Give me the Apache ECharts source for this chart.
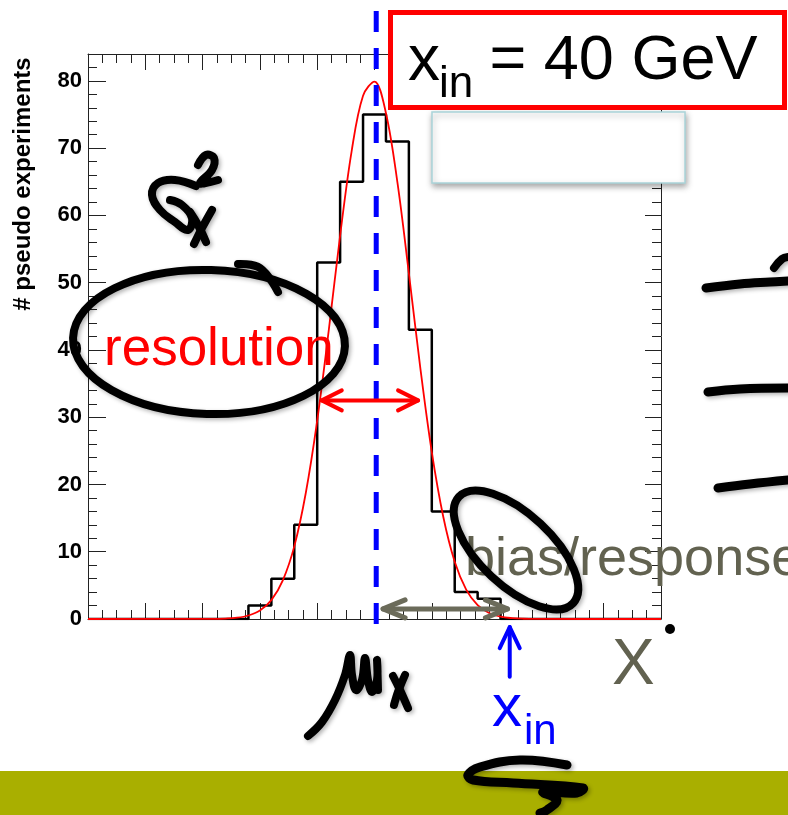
<!DOCTYPE html>
<html><head><meta charset="utf-8">
<script src="https://cdn.jsdelivr.net/npm/echarts@6/dist/echarts.min.js"></script>
<style>html,body{margin:0;padding:0;background:#fff;overflow:hidden}#c{width:788px;height:815px}</style>
</head><body><div id="c"></div><script>
// ---- data ----
const binLowEdges = [0,4,8,12,16,20,24,28,32,36,40,44,48,52,56,60,64,68,72,76,80,84,88,92,96];
const binWidth = 4;
const counts = [0,0,0,0,0,0,0,2,6,14,53,65,75,71,43,16,4,3,0,0,0,0,0,0,0];
const fitX = [0,22,24,26,28,30,32,34,36,38,40,42,44,46,48,50,52,54,56,58,60,62,64,66,68,70,72,74,76,78,100];
const fitY = [0,0.02,0.07,0.19,0.52,1.26,2.81,5.75,10.8,18.7,29.5,42.8,57.0,69.5,77.8,79.9,75.2,64.9,51.4,37.3,24.8,15.2,8.5,4.37,2.06,0.89,0.35,0.13,0.04,0.01,0];
const muX = 50.3;            // position of the dashed blue line
const resolutionArrow = {y: 32.5, x1: 40.8, x2: 57.6};
const biasArrow = {y: 1.5, x1: 51.5, x2: 73.2};
const xinArrow = {x: 73.6, y1: -1.2, y2: -8.6};
const yTitle = '# pseudo experiments';

const FONT = '"Liberation Sans", Arial, Helvetica, sans-serif';
const histData = binLowEdges.map((x, i) => [x, counts[i]]);
histData.push([binLowEdges[binLowEdges.length - 1] + binWidth, counts[counts.length - 1]]);
const fitData = fitX.map((x, i) => [x, fitY[i]]);

const axLine = {show: true, onZero: false, lineStyle: {color: '#222', width: 1}};
function xAx(grid, pos, interval, len, line) {
  return {type: 'value', gridIndex: grid, position: pos, min: 0, max: 100, interval: interval,
    axisLine: line ? axLine : {show: false, onZero: false},
    axisTick: {show: true, inside: true, length: len, lineStyle: {color: '#222', width: 1}},
    axisLabel: {show: false}, splitLine: {show: false}};
}
function yAx(grid, pos, interval, len, line, labels) {
  return {type: 'value', gridIndex: grid, position: pos, min: 0, max: 84, interval: interval,
    axisLine: line ? axLine : {show: false, onZero: false},
    axisTick: {show: true, inside: true, length: len, lineStyle: {color: '#222', width: 1}},
    axisLabel: labels ? {show: true, showMaxLabel: false, margin: 6, color: '#000',
      fontFamily: FONT, fontWeight: 'bold', fontSize: 22} : {show: false},
    splitLine: {show: false}};
}

const gridBox = {left: 88, right: 127, top: 54, bottom: 196, containLabel: false};
const chart = echarts.init(document.getElementById('c'));
chart.setOption({
  animation: false,
  backgroundColor: '#fff',
  grid: [Object.assign({}, gridBox), Object.assign({}, gridBox)],
  xAxis: [xAx(0, 'bottom', 10, 16, true), xAx(0, 'top', 10, 16, true),
          xAx(1, 'bottom', 2.5, 9, false), xAx(1, 'top', 2.5, 9, false)],
  yAxis: [yAx(0, 'left', 10, 18, true, true), yAx(0, 'right', 10, 16, true, false),
          yAx(1, 'left', 2, 9, false, false), yAx(1, 'right', 2, 9, false, false)],
  series: [
    {type: 'line', xAxisIndex: 0, yAxisIndex: 0, step: 'end', symbol: 'none', data: histData,
     lineStyle: {color: '#000', width: 2.5}, z: 2},
    {type: 'line', xAxisIndex: 0, yAxisIndex: 0, smooth: 0.35, symbol: 'none', data: fitData,
     lineStyle: {color: '#ff0000', width: 1.8}, z: 3}
  ]
});

function px(x, y) { return chart.convertToPixel({xAxisIndex: 0, yAxisIndex: 0}, [x, y]); }
function arrowHeads(p, q, len, half) {
  const dx = q[0] - p[0], dy = q[1] - p[1], L = Math.hypot(dx, dy);
  const ux = dx / L, uy = dy / L, nx = -uy, ny = ux;
  const b = [q[0] - ux * len, q[1] - uy * len];
  return [[b[0] + nx * half, b[1] + ny * half], q, [b[0] - nx * half, b[1] - ny * half]];
}
function arrow(p, q, color, w, len, half, both, z) {
  const st = {stroke: color, lineWidth: w, lineCap: 'round', lineJoin: 'round', fill: null};
  const els = [{type: 'polyline', z: z, shape: {points: [p, q]}, style: st}];
  els.push({type: 'polyline', z: z, shape: {points: arrowHeads(p, q, len, half)}, style: st});
  if (both) els.push({type: 'polyline', z: z, shape: {points: arrowHeads(q, p, len, half)}, style: st});
  return els;
}
function txt(s, x, y, size, color, z) {
  return {type: 'text', z: z || 10, x: x, y: y,
    style: {text: s, fontFamily: FONT, fontSize: size, fill: color, align: 'left', verticalAlign: 'middle'}};
}
const penStyle = {stroke: '#000', lineWidth: 8, lineCap: 'round', lineJoin: 'round', fill: null,
  shadowColor: 'rgba(0,0,0,0.3)', shadowBlur: 4, shadowOffsetX: 2, shadowOffsetY: 2};
function pen(points, z, w) {
  return {type: 'polyline', z: z || 20, shape: {points: points, smooth: 0.4}, style: Object.assign({}, penStyle, w ? {lineWidth: w} : {})};
}

const g = [];
g.push({type: 'rect', z: 1, shape: {x: 0, y: 771, width: 788, height: 44}, style: {fill: '#a9af00'}});
g.push({type: 'text', z: 10, x: 23, y: 184, rotation: Math.PI / 2,
  style: {text: yTitle, fontFamily: FONT, fontWeight: 'bold', fontSize: 24, fill: '#000', align: 'center', verticalAlign: 'middle'}});
const mu = px(muX, 0);
g.push({type: 'line', z: 8, shape: {x1: mu[0], y1: 0, x2: mu[0], y2: 628},
  style: {stroke: '#0000ff', lineWidth: 5, lineDash: [21, 16], lineDashOffset: 26}});
g.push({type: 'rect', z: 12, shape: {x: 432, y: 112, width: 253, height: 71},
  style: {fill: '#fff', stroke: '#a9d4d9', lineWidth: 1.5, shadowColor: 'rgba(0,0,0,0.35)', shadowBlur: 6, shadowOffsetY: 3, shadowOffsetX: 1}});
g.push({type: 'rect', z: 13, shape: {x: 390.5, y: 12.5, width: 394, height: 95},
  style: {fill: '#fff', stroke: '#ff0000', lineWidth: 5}});
g.push(txt('x', 408, 62, 64, '#000', 14));
g.push(txt('in', 439, 84.5, 44, '#000', 14));
g.push(txt(' = 40 GeV', 472, 62, 63, '#000', 14));
g.push(txt('resolution', 104, 350, 53, '#ff0000', 10));
g.push(txt('bias/response', 465, 560, 54, '#626250', 10));
g.push(txt('X', 612, 666, 64, '#626250', 10));
g.push(txt('x', 492, 709, 60, '#0000ff', 10));
g.push(txt('in', 524, 732, 42, '#0000ff', 10));
g.push({type: 'circle', z: 10, shape: {cx: 670, cy: 629, r: 5}, style: {fill: '#000'}});
g.push({type: 'ellipse', z: 20, shape: {cx: 209, cy: 342, rx: 136, ry: 72}, rotation: -0.03, originX: 209, originY: 342,
  style: Object.assign({}, penStyle, {fill: null})});
g.push({type: 'ellipse', z: 20, shape: {cx: 516, cy: 550, rx: 78, ry: 36}, rotation: -0.75, originX: 516, originY: 550,
  style: Object.assign({}, penStyle, {fill: null})});
g.push(pen([[196,186],[175,180],[158,183],[152,195],[160,210],[175,222],[188,230],[192,218],[182,205],[170,200]]));
g.push(pen([[198,165],[206,155],[214,158],[212,170],[200,183],[210,182],[218,180]]));
g.push(pen([[190,212],[198,225],[206,242]]));
g.push(pen([[212,210],[202,228],[194,244]]));
g.push(pen([[238,264],[260,268],[278,292]]));
g.push(pen([[308,736],[322,722],[335,700],[345,675],[350,655],[352,675],[356,690],[362,680],[365,658],[368,680],[372,692],[377,680],[377,660],[378,690]]));
g.push(pen([[393,676],[400,690],[408,708]]));
g.push(pen([[405,675],[398,692],[394,705]]));
g.push(pen([[706,288],[740,284],[770,282],[788,281]], 20, 9));
g.push(pen([[774,268],[782,259],[788,257]], 20, 8));
g.push(pen([[708,392],[740,389],[788,388]], 20, 9));
g.push(pen([[718,488],[750,484],[788,480]], 20, 9));
g.push(pen([[567,765],[520,760],[480,767],[468,775],[473,780],[513,783],[583,788],[577,793],[543,792],[557,800],[547,810],[540,813]], 20, 9));
g.push(...arrow(px(resolutionArrow.x1, resolutionArrow.y), px(resolutionArrow.x2, resolutionArrow.y), '#ff0000', 4, 20, 10, true, 30));
g.push(...arrow(px(biasArrow.x1, biasArrow.y), px(biasArrow.x2, biasArrow.y), '#6b6b5a', 5, 22, 9, true, 30));
g.push(...arrow(px(xinArrow.x, xinArrow.y2), px(xinArrow.x, xinArrow.y1), '#0000ff', 4, 21, 10, false, 30));
chart.setOption({graphic: {elements: g}});
</script></body></html>
